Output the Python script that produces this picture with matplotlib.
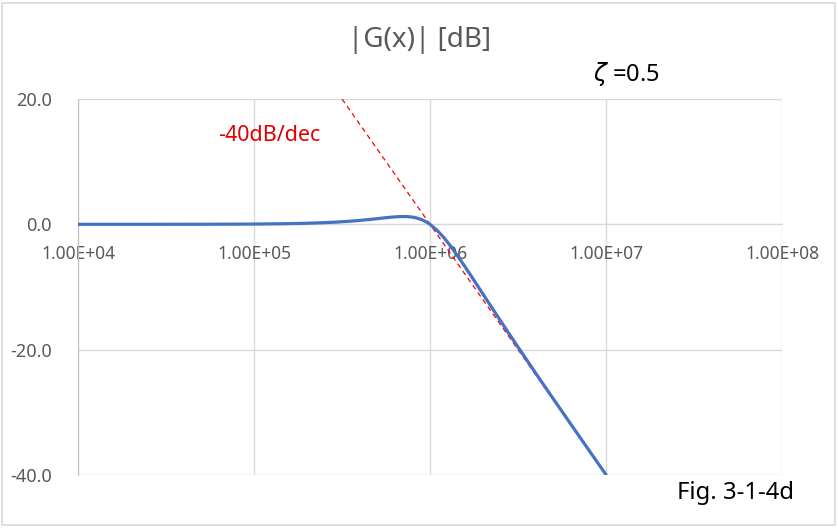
import matplotlib
matplotlib.use("Agg")
import matplotlib.pyplot as plt
from matplotlib.patches import Rectangle
from matplotlib.ticker import FixedLocator, FuncFormatter

# |G| (zeta = 0.5, corner at 1e6)
freq = [1e4, 2e4, 5e4, 1e5, 1.5e5, 2e5, 2.5e5, 3e5, 3.5e5, 4e5, 4.5e5, 5e5,
        5.5e5, 6e5, 6.5e5, 7e5, 7.5e5, 8e5, 8.5e5, 9e5, 9.5e5, 1e6, 1.1e6,
        1.2e6, 1.3e6, 1.5e6, 1.7e6, 2e6, 2.5e6, 3e6, 4e6, 5e6, 6e6, 7e6,
        8e6, 1e7]
gain_db = [0.0, 0.002, 0.011, 0.043, 0.097, 0.170, 0.262, 0.371, 0.494,
           0.627, 0.765, 0.902, 1.029, 1.138, 1.215, 1.249, 1.227, 1.138,
           0.972, 0.726, 0.400, 0.0, -0.983, -2.131, -3.357, -5.812, -8.104,
           -11.139, -15.29, -18.633, -23.82, -27.789, -31.007, -33.716,
           -36.056, -39.957]

# -40 dB/dec asymptote
asym_x = [3.1623e5, 1e7]
asym_y = [20.0, -40.0]

x_ticks = [1e4, 1e5, 1e6, 1e7, 1e8]
y_ticks = [20.0, 0.0, -20.0, -40.0]

plt.rcParams["font.family"] = ["Noto Sans", "DejaVu Sans"]

fig = plt.figure(figsize=(8.38, 5.28), dpi=100)
ax = fig.add_axes([0.0931, 0.1004, 0.8401, 0.7121])

ax.plot(asym_x, asym_y, color="#FF0000", lw=0.9, ls=(0, (4, 3)), zorder=3)
ax.plot(freq, gain_db, color="#4472C4", lw=2.3, zorder=4,
        solid_capstyle="round")

ax.set_xscale("log")
ax.set_xlim(1e4, 1e8)
ax.set_ylim(-40, 20)
ax.xaxis.set_major_locator(FixedLocator(x_ticks))
ax.xaxis.set_minor_locator(FixedLocator([]))
ax.yaxis.set_major_locator(FixedLocator(y_ticks))
ax.xaxis.set_major_formatter(FuncFormatter(
    lambda v, p: "{:.2E}".format(v)))
ax.yaxis.set_major_formatter(FuncFormatter(lambda v, p: f"{v:.1f}"))

ax.grid(True, color="#d9d9d9", lw=1.0)
ax.set_axisbelow(True)
for s in ["top", "right"]:
    ax.spines[s].set_visible(False)
ax.spines["bottom"].set_position(("data", 0))
ax.spines["bottom"].set_color("#d9d9d9")
ax.spines["left"].set_color("#bfbfbf")
ax.tick_params(length=0, labelcolor="#595959")
ax.tick_params(axis="x", pad=15, labelsize=12.5)
ax.tick_params(axis="y", pad=19, labelsize=13)

fig.text(0.501, 0.924, "|G(x)| [dB]", ha="center", va="center",
         fontsize=20, color="#595959")
fig.text(0.747, 0.860, r"$\zeta$ =0.5", ha="center", va="center",
         fontsize=17, color="black")
fig.text(0.260, 0.744, "-40dB/dec", ha="left", va="center",
         fontsize=15.5, color="#E00000")
fig.text(0.808, 0.066, "Fig. 3-1-4d", ha="left", va="center",
         fontsize=17.2, color="black")

fig.patches.append(Rectangle((2 / 838, 3 / 528), 833 / 838, 522 / 528,
                             transform=fig.transFigure, fill=False,
                             edgecolor="#d9d9d9", lw=1.2))

fig.savefig("out.png", dpi=100)
